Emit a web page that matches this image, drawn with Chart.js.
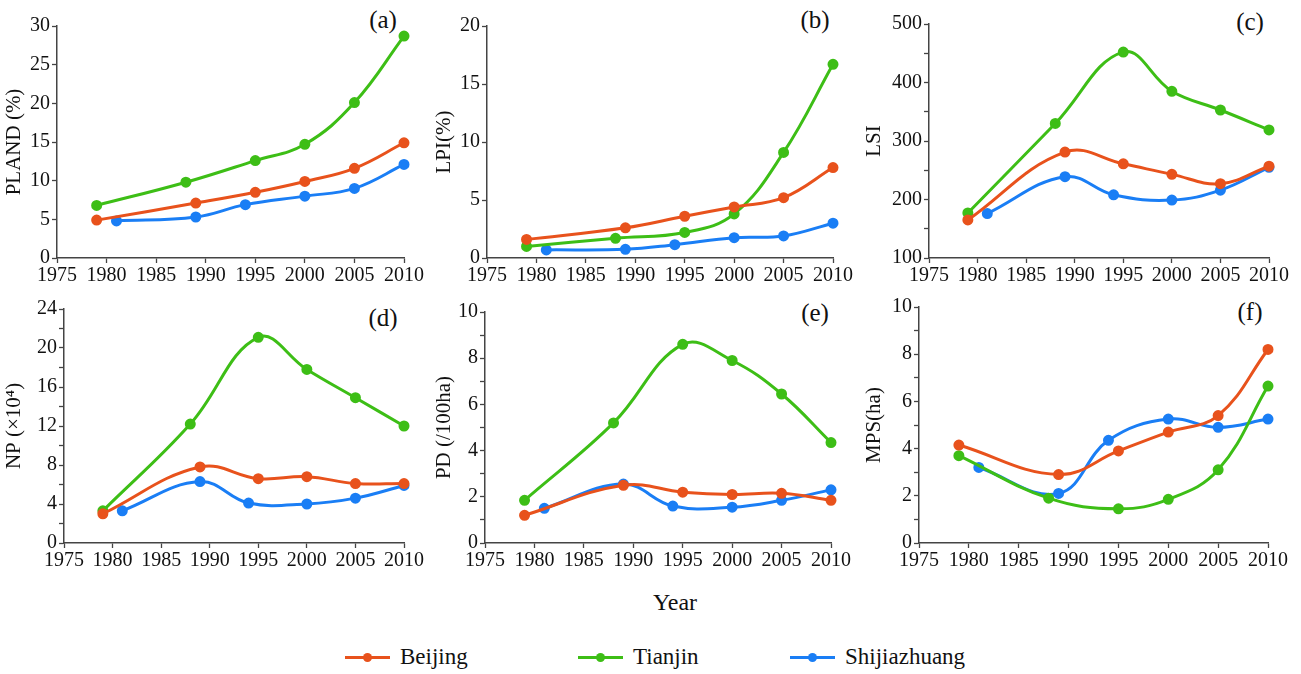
<!DOCTYPE html>
<html>
<head>
<meta charset="utf-8">
<script src="https://cdn.jsdelivr.net/npm/chart.js@4"></script>
<style>
  body { margin: 0; background: #fff; }
  #page { position: relative; width: 1301px; height: 674px; font-family: "Liberation Serif", "Tinos", "Times New Roman", "DejaVu Serif", serif; color: #111; }
  .panel { position: absolute; }
  .tag { position: absolute; font-size: 25px; transform: translate(-50%, -50%); }
  #year { position: absolute; left: 675px; top: 602px; transform: translate(-50%, -50%); font-size: 24px; }
  .leg { position: absolute; top: 657px; transform: translateY(-50%); font-size: 23px; display: flex; align-items: center; }
  .leg .swatch { position: relative; width: 45px; height: 3px; margin-right: 10px; }
  .leg .swatch::after { content: ''; position: absolute; left: 18px; top: -3px; width: 9px; height: 9px; border-radius: 50%; background: inherit; }
</style>
</head>
<body>
<div id="page">
  <div class="tag" style="left:383px;top:20px">(a)</div>
  <div class="tag" style="left:815px;top:20px">(b)</div>
  <div class="tag" style="left:1250px;top:22px">(c)</div>
  <div class="tag" style="left:383px;top:318px">(d)</div>
  <div class="tag" style="left:815px;top:313px">(e)</div>
  <div class="tag" style="left:1250px;top:312px">(f)</div>
  <div id="year">Year</div>
  <div class="leg" style="left:345px"><div class="swatch" style="background:#E8521C"></div>Beijing</div>
  <div class="leg" style="left:578px"><div class="swatch" style="background:#3DBE16"></div>Tianjin</div>
  <div class="leg" style="left:790px"><div class="swatch" style="background:#1A7EF5"></div>Shijiazhuang</div>
</div>
<script>
// sample years per city
const yearsBeijing = [1979, 1989, 1995, 2000, 2005, 2010];
const yearsTianjin = [1979, 1988, 1995, 2000, 2005, 2010];
const yearsShijiazhuang = [1981, 1989, 1994, 2000, 2005, 2010];
const cities = ['Beijing', 'Tianjin', 'Shijiazhuang'];
const xTicks = [1975, 1980, 1985, 1990, 1995, 2000, 2005, 2010];

// (a) PLAND (%)
const plandBeijing = [4.9, 7.1, 8.5, 9.9, 11.6, 14.9];
const plandTianjin = [6.8, 9.8, 12.6, 14.7, 20.1, 28.7];
const plandShijiazhuang = [4.8, 5.3, 6.9, 8.0, 9.0, 12.1];
// (b) LPI (%)
const lpiBeijing = [1.6, 2.6, 3.6, 4.4, 5.2, 7.8];
const lpiTianjin = [1.0, 1.7, 2.2, 3.8, 9.1, 16.7];
const lpiShijiazhuang = [0.7, 0.75, 1.15, 1.75, 1.9, 3.0];
// (c) LSI
const lsiBeijing = [165, 281, 261, 243, 227, 257];
const lsiTianjin = [177, 330, 452, 385, 353, 319];
const lsiShijiazhuang = [176, 239, 208, 199, 216, 255];
// (d) NP (x10^4)
const npBeijing = [3.0, 7.8, 6.6, 6.8, 6.1, 6.1];
const npTianjin = [3.3, 12.2, 21.1, 17.8, 14.9, 12.0];
const npShijiazhuang = [3.3, 6.3, 4.1, 4.0, 4.6, 5.9];
// (e) PD (/100ha)
const pdBeijing = [1.2, 2.5, 2.2, 2.1, 2.15, 1.85];
const pdTianjin = [1.85, 5.2, 8.6, 7.9, 6.45, 4.35];
const pdShijiazhuang = [1.5, 2.55, 1.6, 1.55, 1.85, 2.3];
// (f) MPS (ha)
const mpsBeijing = [4.15, 2.9, 3.9, 4.7, 5.4, 8.2];
const mpsTianjin = [3.7, 1.9, 1.45, 1.85, 3.1, 6.65];
const mpsShijiazhuang = [3.2, 2.1, 4.35, 5.25, 4.9, 5.25];

const colors = ['#E8521C', '#3DBE16', '#1A7EF5'];
const yearSets = [yearsBeijing, yearsTianjin, yearsShijiazhuang];

// panel frames: canvas box + where the plot area should land
const panels = [
  { title: 'PLAND (%)', data: [plandBeijing, plandTianjin, plandShijiazhuang], min: 0, max: 30, major: 5, minor: 5,
    left: 0, top: 0, width: 430, axisW: 57, padTop: 26, padRight: 26, bottom: 258 },
  { title: 'LPI(%)', data: [lpiBeijing, lpiTianjin, lpiShijiazhuang], min: 0, max: 20, major: 5, minor: 5,
    left: 430, top: 0, width: 430, axisW: 57, padTop: 26, padRight: 27, bottom: 258 },
  { title: 'LSI', data: [lsiBeijing, lsiTianjin, lsiShijiazhuang], min: 100, max: 500, major: 100, minor: 50,
    left: 860, top: 0, width: 441, axisW: 69, padTop: 24, padRight: 32, bottom: 258 },
  { title: 'NP (×10⁴)', data: [npBeijing, npTianjin, npShijiazhuang], min: 0, max: 24, major: 4, minor: 2,
    left: 0, top: 290, width: 430, axisW: 64, padTop: 19, padRight: 26, bottom: 543 },
  { title: 'PD (/100ha)', data: [pdBeijing, pdTianjin, pdShijiazhuang], min: 0, max: 10, major: 2, minor: 1,
    left: 430, top: 290, width: 430, axisW: 55, padTop: 22, padRight: 29, bottom: 543 },
  { title: 'MPS(ha)', data: [mpsBeijing, mpsTianjin, mpsShijiazhuang], min: 0, max: 10, major: 2, minor: 1,
    left: 860, top: 290, width: 441, axisW: 59, padTop: 17, padRight: 33, bottom: 543 }
];

const xAxisH = 32;
const axisColor = '#444';
const serif = '"Liberation Serif", "Tinos", "Times New Roman", "DejaVu Serif", serif';
const tickFont = { family: serif, size: 20 };

panels.forEach((p) => {
  const height = p.bottom - p.top + xAxisH;
  const box = document.createElement('div');
  box.className = 'panel';
  box.style.left = p.left + 'px';
  box.style.top = p.top + 'px';
  box.style.width = p.width + 'px';
  box.style.height = height + 'px';
  const canvas = document.createElement('canvas');
  box.appendChild(canvas);
  document.getElementById('page').appendChild(box);

  new Chart(canvas, {
    type: 'line',
    data: {
      datasets: cities.map((name, i) => ({
        label: name,
        data: yearSets[i].map((yr, j) => ({ x: yr, y: p.data[i][j] })),
        borderColor: colors[i],
        backgroundColor: colors[i],
        borderWidth: 3,
        pointRadius: 4,
        tension: 0.4,
        clip: false
      }))
    },
    options: {
      responsive: true,
      maintainAspectRatio: false,
      animation: false,
      layout: { padding: { top: p.padTop, right: p.padRight, left: 0, bottom: 0 } },
      plugins: { legend: { display: false }, tooltip: { enabled: false } },
      scales: {
        x: {
          type: 'linear',
          min: 1975,
          max: 2010,
          afterBuildTicks: (axis) => { axis.ticks = xTicks.map((v) => ({ value: v })); },
          afterFit: (axis) => { axis.height = xAxisH; },
          grid: { drawOnChartArea: false, tickLength: 5, tickColor: axisColor, tickWidth: 1.3 },
          border: { color: axisColor, width: 1.5 },
          ticks: { color: '#111', font: tickFont, padding: 1, maxRotation: 0, autoSkip: false, callback: (v) => String(v) }
        },
        y: {
          min: p.min,
          max: p.max,
          afterFit: (axis) => { axis.width = p.axisW; },
          grid: { drawOnChartArea: false, tickLength: 5, tickColor: axisColor, tickWidth: 1.3 },
          border: { color: axisColor, width: 1.5 },
          title: { display: true, text: p.title, color: '#111', font: { family: serif, size: 21 }, padding: { top: 2, bottom: 0 } },
          ticks: {
            stepSize: p.minor,
            autoSkip: false,
            color: '#111',
            font: tickFont,
            padding: 2,
            callback: (v) => (Math.abs(v % p.major) < 1e-9 ? String(v) : '')
          }
        }
      }
    }
  });
});
</script>
</body>
</html>
